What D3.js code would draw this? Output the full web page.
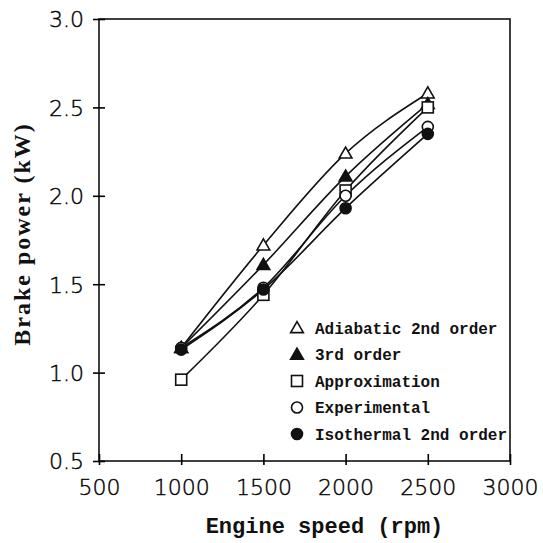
<!DOCTYPE html>
<meta charset="utf-8">
<head>
  <style>
    body { margin: 0; background: #fff; }
    .tick text { font-family: "DejaVu Sans", sans-serif; font-weight: 300; font-size: 22px; fill: #000; stroke: #000; stroke-width: 0.4px; }
    .xtitle { font-family: "Liberation Mono", monospace; font-weight: bold; font-size: 22px; fill: #111; }
    .ytitle { font-family: "Liberation Serif", serif; font-weight: bold; font-size: 24px; letter-spacing: 2px; fill: #111; }
    .leg { font-family: "Liberation Mono", monospace; font-weight: bold; font-size: 16px; fill: #111; }
  </style>
</head>
<body>
<div id="my_dataviz"></div>
<script src="https://d3js.org/d3.v7.min.js"></script>
<script>

// engine speeds (rpm)
var speeds = [1000, 1500, 2000, 2500];

// brake power (kW) for each series
var adiabatic   = [1.14, 1.72, 2.24, 2.58];
var thirdOrder  = [1.14, 1.61, 2.11, 2.52];
var approx      = [0.96, 1.44, 2.03, 2.50];
var experiment  = [1.14, 1.48, 2.00, 2.39];
var isothermal  = [1.13, 1.47, 1.93, 2.35];

var seriesNames = ["Adiabatic 2nd order", "3rd order", "Approximation", "Experimental", "Isothermal 2nd order"];
var seriesValues = [adiabatic, thirdOrder, approx, experiment, isothermal];
var seriesSymbols = ["triangleOpen", "triangleFilled", "square", "circleOpen", "circleFilled"];

var xTicks = [500, 1000, 1500, 2000, 2500, 3000];
var yTicks = [0.5, 1.0, 1.5, 2.0, 2.5, 3.0];

// set the dimensions and margins of the graph
var margin = {top: 19, right: 33, bottom: 82, left: 99},
    width = 543 - margin.left - margin.right,
    height = 543 - margin.top - margin.bottom;

var svg = d3.select("#my_dataviz")
  .append("svg")
    .attr("width", 543)
    .attr("height", 543)
  .append("g")
    .attr("transform", "translate(" + margin.left + "," + margin.top + ")");

var x = d3.scaleLinear().domain([500, 3000]).range([0, width]);
var y = d3.scaleLinear().domain([0.5, 3.0]).range([height, 0]);

// frame
svg.append("rect")
  .attr("width", width).attr("height", height)
  .attr("fill", "none").attr("stroke", "#111").attr("stroke-width", 1.6);

// X axis
var xAxis = svg.append("g")
  .attr("transform", "translate(0," + height + ")")
  .call(d3.axisBottom(x).tickValues(xTicks).tickFormat(d3.format("d")).tickSize(4));
xAxis.select(".domain").remove();
xAxis.selectAll(".tick line").attr("y1", -7).attr("stroke-width", 1.6);
xAxis.selectAll(".tick text").attr("y", 34).attr("dy", 0);

// Y axis
var yAxis = svg.append("g")
  .call(d3.axisLeft(y).tickValues(yTicks).tickFormat(d3.format(".1f")).tickSize(6));
yAxis.select(".domain").remove();
yAxis.selectAll(".tick line").attr("x1", 6).attr("stroke-width", 1.6);
yAxis.selectAll(".tick text").attr("x", -15).attr("dy", "0.36em");

// axis titles
svg.append("text")
  .attr("class", "xtitle")
  .attr("x", width / 2 + 20)
  .attr("y", height + 72)
  .attr("text-anchor", "middle")
  .text("Engine speed (rpm)");

svg.append("text")
  .attr("class", "ytitle")
  .attr("transform", "rotate(-90)")
  .attr("x", -(234 - margin.top))
  .attr("y", -69)
  .attr("text-anchor", "middle")
  .text("Brake power (kW)");

// lines
var line = d3.line()
  .x(function(d, i) { return x(speeds[i]); })
  .y(function(d) { return y(d); })
  .curve(d3.curveMonotoneX);

svg.selectAll(".series")
  .data(seriesValues)
  .enter()
  .append("path")
    .attr("d", line)
    .attr("fill", "none")
    .attr("stroke", "#111")
    .attr("stroke-width", 1.6);

// symbols
function drawSymbol(g, kind, cx, cy) {
  if (kind === "triangleOpen" || kind === "triangleFilled") {
    g.append("path")
      .attr("d", d3.symbol().type(d3.symbolTriangle).size(70))
      .attr("transform", "translate(" + cx + "," + (cy + 1) + ")")
      .attr("fill", kind === "triangleFilled" ? "#111" : "#fff")
      .attr("stroke", "#111").attr("stroke-width", 1.6);
  } else if (kind === "square") {
    g.append("rect")
      .attr("x", cx - 5.5).attr("y", cy - 5.5).attr("width", 11).attr("height", 11)
      .attr("fill", "#fff").attr("stroke", "#111").attr("stroke-width", 1.6);
  } else {
    g.append("circle")
      .attr("cx", cx).attr("cy", cy).attr("r", 5.5)
      .attr("fill", kind === "circleFilled" ? "#111" : "#fff")
      .attr("stroke", "#111").attr("stroke-width", 1.6);
  }
}

var marks = svg.append("g");
seriesValues.forEach(function(vals, s) {
  vals.forEach(function(v, i) {
    drawSymbol(marks, seriesSymbols[s], x(speeds[i]), y(v));
  });
});

// legend
var legend = svg.append("g").attr("transform", "translate(198,309)");
seriesNames.forEach(function(name, i) {
  var ly = i * 26.5;
  drawSymbol(legend, seriesSymbols[i], 0, ly);
  legend.append("text")
    .attr("class", "leg")
    .attr("x", 18)
    .attr("y", ly)
    .attr("dy", "0.35em")
    .text(name);
});

</script>
</body>
